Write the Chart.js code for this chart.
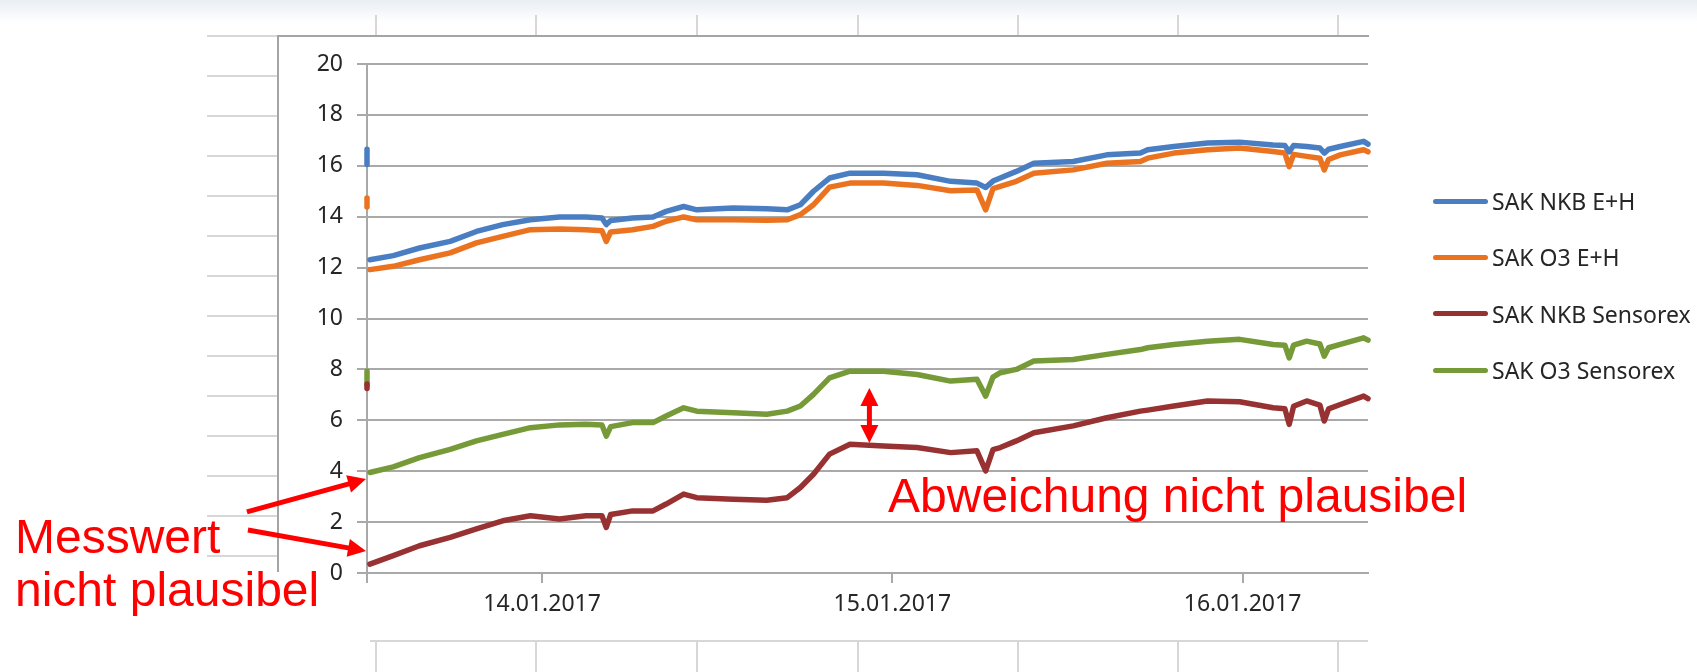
<!DOCTYPE html>
<html>
<head>
<meta charset="utf-8">
<title>SAK Messwerte</title>
<script src="https://cdn.jsdelivr.net/npm/chart.js@4.4.0/dist/chart.umd.min.js"></script>
<style>
  html, body { margin: 0; padding: 0; background: #fff; }
  #wrap { position: relative; width: 1697px; height: 672px; overflow: hidden; background: #fff; }
  #haze { position: absolute; left: 0; top: 0; width: 1697px; height: 22px;
          background: linear-gradient(#e9eef3, rgba(255,255,255,0)); }
  .sheet { position: absolute; background: #d7d7d7; }
  .frame { position: absolute; background: #a4a4a4; }
  #chart { position: absolute; left: 0; top: 0; }
  .note { position: absolute; font-family: 'Liberation Sans', Arial, sans-serif; font-size: 48px;
          line-height: 48px; color: #ff0000; white-space: nowrap; }
  #legend { position: absolute; left: 1433px; top: 173px; font-family: 'Noto Sans', sans-serif;
            font-size: 23px; color: #262626; }
  #legend .item { display: flex; align-items: center; height: 56.4px; line-height: 56.4px; white-space: nowrap; }
  #legend .swatch { width: 55px; height: 5px; border-radius: 3px; margin-right: 4px; }
</style>
</head>
<body>
<div id="wrap">
  <div id="haze"></div>
  <canvas id="chart" width="1697" height="672"></canvas>
  <div id="legend"></div>
  <div class="note" style="left:15px; top:513px;">Messwert</div>
  <div class="note" style="left:15px; top:566px;">nicht plausibel</div>
  <div class="note" style="left:888px; top:472px;">Abweichung nicht plausibel</div>
</div>
<script>
// Zeit in Stunden ab 13.01.2017 00:00
const hours = [12.2, 13.8, 15.6, 17.7, 19.5, 21.3, 23.2, 25.2, 27.0, 28.1,
               28.4, 28.7, 30.2, 31.6, 32.5, 33.7, 34.6, 37.1, 39.4, 40.8,
               41.7, 42.6, 43.7, 45.1, 47.4, 49.7, 52.0, 53.8, 54.4, 54.9,
               55.4, 56.5, 57.7, 60.4, 62.7, 65.0, 65.5, 67.3, 69.6, 71.8,
               74.1, 74.9, 75.2, 75.5, 76.4, 77.3, 77.6, 77.9, 78.7, 80.3, 80.6];

const sakNkbEH = [12.31, 12.47, 12.77, 13.03, 13.42, 13.69, 13.88, 13.99, 13.99, 13.95,
                  13.69, 13.85, 13.95, 13.99, 14.21, 14.40, 14.27, 14.34, 14.31, 14.27,
                  14.47, 15.00, 15.52, 15.71, 15.71, 15.65, 15.39, 15.32, 15.15, 15.40,
                  15.52, 15.78, 16.10, 16.17, 16.43, 16.50, 16.63, 16.76, 16.90, 16.93,
                  16.82, 16.80, 16.55, 16.80, 16.76, 16.70, 16.50, 16.65, 16.76, 16.96, 16.85];

const sakO3EH = [11.92, 12.05, 12.31, 12.58, 12.97, 13.23, 13.49, 13.52, 13.49, 13.45,
                 13.03, 13.40, 13.49, 13.62, 13.82, 13.99, 13.88, 13.88, 13.86, 13.88,
                 14.08, 14.47, 15.16, 15.32, 15.32, 15.23, 15.02, 15.05, 14.27, 15.10,
                 15.19, 15.39, 15.71, 15.84, 16.10, 16.17, 16.30, 16.50, 16.63, 16.70,
                 16.56, 16.50, 15.97, 16.45, 16.37, 16.30, 15.84, 16.25, 16.43, 16.63, 16.55];

const sakNkbSensorex = [0.35, 0.68, 1.07, 1.40, 1.73, 2.05, 2.25, 2.12, 2.25, 2.25,
                        1.79, 2.30, 2.44, 2.44, 2.71, 3.10, 2.96, 2.90, 2.86, 2.96,
                        3.36, 3.88, 4.67, 5.06, 4.99, 4.93, 4.73, 4.80, 4.01, 4.85,
                        4.93, 5.19, 5.51, 5.78, 6.10, 6.36, 6.40, 6.56, 6.76, 6.73,
                        6.49, 6.45, 5.84, 6.55, 6.76, 6.60, 5.97, 6.45, 6.62, 6.95, 6.85];

const sakO3Sensorex = [3.95, 4.17, 4.53, 4.86, 5.19, 5.45, 5.71, 5.82, 5.84, 5.82,
                       5.38, 5.75, 5.91, 5.91, 6.17, 6.49, 6.36, 6.30, 6.24, 6.36,
                       6.56, 7.02, 7.67, 7.93, 7.93, 7.80, 7.54, 7.61, 6.95, 7.70,
                       7.87, 8.00, 8.33, 8.39, 8.59, 8.78, 8.85, 8.98, 9.11, 9.18,
                       8.98, 8.95, 8.45, 8.95, 9.11, 9.00, 8.52, 8.85, 8.98, 9.24, 9.15];

// erster (unplausibler) Messwert, kurzer senkrechter Strich an der Achse
const firstHour = 12.0;
const firstNkbEH = [16.65, 16.05];
const firstO3EH = [14.73, 14.38];
const firstNkbSensorex = [7.43, 7.25];
const firstO3Sensorex = [7.93, 7.39];

const dayTicks = [24, 48, 72];
const dayLabels = ['14.01.2017', '15.01.2017', '16.01.2017'];
const yTicks = [0, 2, 4, 6, 8, 10, 12, 14, 16, 18, 20];

// Pfeile in Achseneinheiten: [x1, y1, x2, y2, doppelt]
const arrows = [
  [3.77, 2.40, 11.93, 3.69, false],
  [3.84, 1.69, 11.93, 0.86, false],
  [46.43, 7.27, 46.43, 5.11, true]
];

// Hintergrund: Tabellenlinien und Diagrammrahmen
const wrap = document.getElementById('wrap');
function rect(cls, l, t, w, h) {
  const d = document.createElement('div');
  d.className = cls;
  d.style.left = l + 'px'; d.style.top = t + 'px';
  d.style.width = w + 'px'; d.style.height = h + 'px';
  wrap.insertBefore(d, document.getElementById('chart'));
}
const colX = [376, 536, 697, 858, 1018, 1178, 1338];
colX.forEach(x => { rect('sheet', x - 1, 15, 2, 21); rect('sheet', x - 1, 642, 2, 30); });
for (let y = 35.7; y < 560; y += 40) rect('sheet', 207, y - 1, 70, 2);
rect('frame', 276.5, 35, 2, 537);
rect('frame', 276.5, 35, 1092, 2);
rect('sheet', 370, 640, 998, 2);

function series(first, values) {
  const pts = [{ x: firstHour, y: first[0] }, { x: firstHour, y: first[1] }, { x: firstHour + 0.05, y: null }];
  hours.forEach((h, i) => pts.push({ x: h, y: values[i] }));
  return pts;
}

const arrowPlugin = {
  id: 'arrows',
  afterDatasetsDraw(chart) {
    const { ctx, scales: { x, y } } = chart;
    ctx.save();
    ctx.strokeStyle = '#ff0000';
    ctx.fillStyle = '#ff0000';
    ctx.lineWidth = 5;
    const head = (tx, ty, ang) => {
      const L = 18, W = 9;
      ctx.beginPath();
      ctx.moveTo(tx, ty);
      ctx.lineTo(tx - L * Math.cos(ang) + W * Math.sin(ang), ty - L * Math.sin(ang) - W * Math.cos(ang));
      ctx.lineTo(tx - L * Math.cos(ang) - W * Math.sin(ang), ty - L * Math.sin(ang) + W * Math.cos(ang));
      ctx.closePath();
      ctx.fill();
    };
    arrows.forEach(([x1, y1, x2, y2, both]) => {
      const px1 = x.getPixelForValue(x1), py1 = y.getPixelForValue(y1);
      const px2 = x.getPixelForValue(x2), py2 = y.getPixelForValue(y2);
      const ang = Math.atan2(py2 - py1, px2 - px1);
      const sx = both ? px1 + 14 * Math.cos(ang) : px1, sy = both ? py1 + 14 * Math.sin(ang) : py1;
      ctx.beginPath();
      ctx.moveTo(sx, sy);
      ctx.lineTo(px2 - 14 * Math.cos(ang), py2 - 14 * Math.sin(ang));
      ctx.stroke();
      head(px2, py2, ang);
      if (both) head(px1, py1, ang + Math.PI);
    });
    ctx.restore();
  }
};

const gridColor = '#a9a9a9';
const tickFont = { family: 'Noto Sans', size: 23 };

const chart = new Chart(document.getElementById('chart'), {
  type: 'line',
  data: {
    datasets: [
      { label: 'SAK NKB E+H', data: series(firstNkbEH, sakNkbEH), borderColor: '#4a7ec2' },
      { label: 'SAK O3 E+H', data: series(firstO3EH, sakO3EH), borderColor: '#eb7320' },
      { label: 'SAK NKB Sensorex', data: series(firstNkbSensorex, sakNkbSensorex), borderColor: '#983232' },
      { label: 'SAK O3 Sensorex', data: series(firstO3Sensorex, sakO3Sensorex), borderColor: '#779a38' }
    ]
  },
  options: {
    responsive: false,
    animation: false,
    layout: { padding: { left: 307, right: 329, top: 64, bottom: 39 } },
    elements: {
      line: { borderWidth: 5.5, tension: 0, borderJoinStyle: 'round', borderCapStyle: 'round', fill: false },
      point: { radius: 0, hoverRadius: 0 }
    },
    datasets: { line: { clip: false, spanGaps: false } },
    plugins: { legend: { display: false }, tooltip: { enabled: false } },
    scales: {
      x: {
        type: 'linear',
        min: 12,
        max: 80.6,
        afterFit(scale) { scale.height = 60; },
        afterBuildTicks(scale) { scale.ticks = [12].concat(dayTicks).map(v => ({ value: v })); },
        grid: { drawOnChartArea: false, drawTicks: true, tickLength: 10, color: gridColor, lineWidth: 2 },
        border: { display: true, color: gridColor, width: 2 },
        ticks: {
          font: tickFont, color: '#262626', padding: 8, maxRotation: 0, autoSkip: false,
          callback(v) { const i = dayTicks.indexOf(v); return i >= 0 ? dayLabels[i] : ''; }
        }
      },
      y: {
        min: 0,
        max: 20,
        afterFit(scale) { scale.width = 60; },
        afterBuildTicks(scale) { scale.ticks = yTicks.map(v => ({ value: v })); },
        grid: { drawTicks: true, tickLength: 10, color: gridColor, lineWidth: 2 },
        border: { display: true, color: gridColor, width: 2 },
        ticks: { font: tickFont, color: '#262626', padding: 14 }
      }
    }
  },
  plugins: [arrowPlugin]
});

// Legende aus den Datensätzen
const legend = document.getElementById('legend');
chart.data.datasets.forEach(ds => {
  const item = document.createElement('div');
  item.className = 'item';
  const sw = document.createElement('span');
  sw.className = 'swatch';
  sw.style.background = ds.borderColor;
  const txt = document.createElement('span');
  txt.textContent = ds.label;
  item.appendChild(sw);
  item.appendChild(txt);
  legend.appendChild(item);
});
</script>
</body>
</html>
